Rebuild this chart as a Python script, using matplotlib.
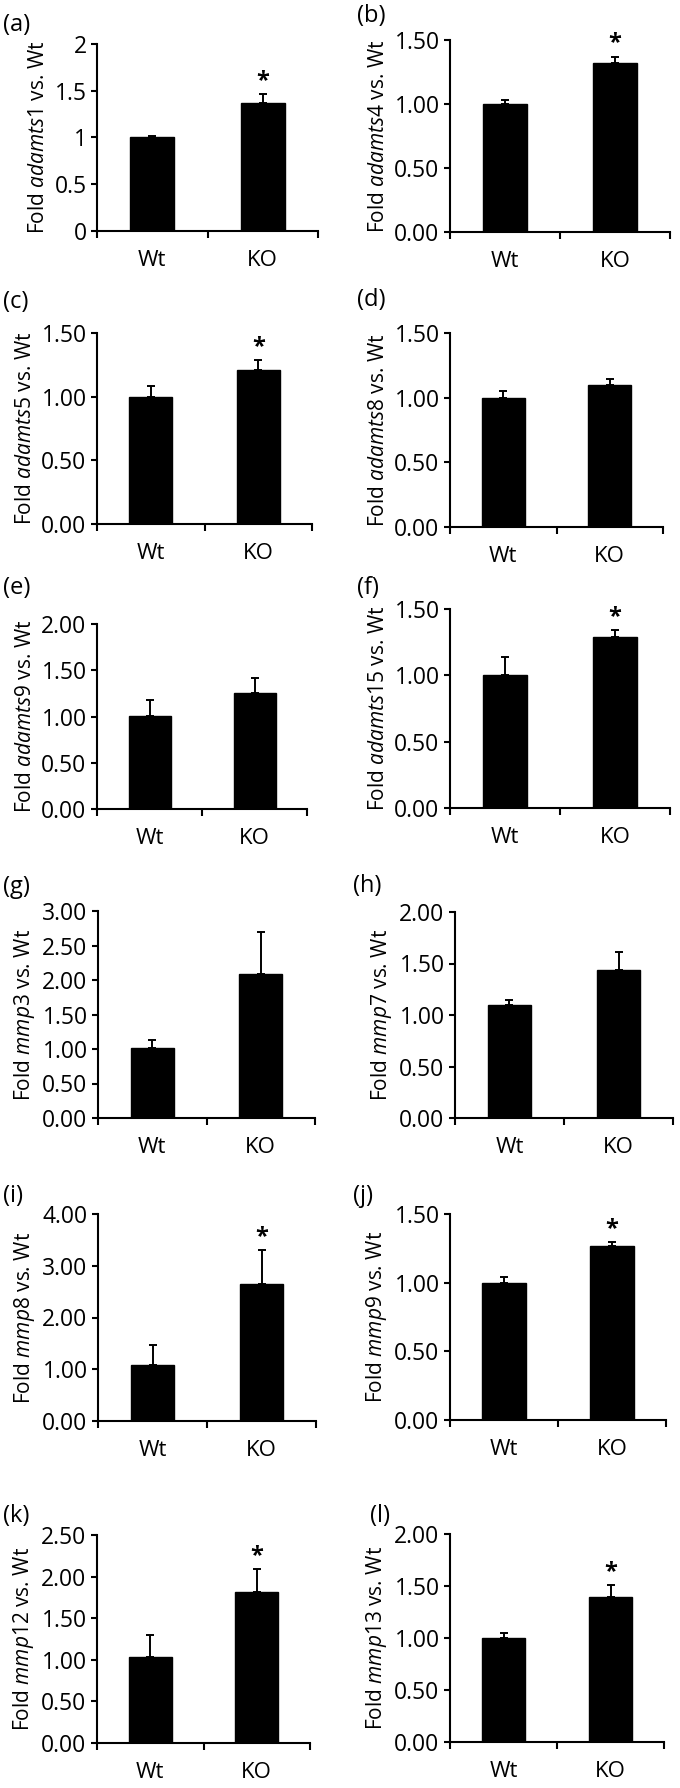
import matplotlib
matplotlib.use("Agg")
import matplotlib.pyplot as plt

plt.rcParams['font.family'] = ['Open Sans', 'DejaVu Sans']
plt.rcParams['mathtext.fontset'] = 'custom'
plt.rcParams['mathtext.rm'] = 'Open Sans'
plt.rcParams['mathtext.it'] = 'Open Sans:italic'

groups = ['Wt', 'KO']
panel_tags = ['(a)', '(b)', '(c)', '(d)', '(e)', '(f)',
              '(g)', '(h)', '(i)', '(j)', '(k)', '(l)']
genes = ['adamts1', 'adamts4', 'adamts5', 'adamts8', 'adamts9', 'adamts15',
         'mmp3', 'mmp7', 'mmp8', 'mmp9', 'mmp12', 'mmp13']

# mean fold change (Wt, KO) and upper error
means = [[1.00, 1.37], [1.00, 1.32], [1.00, 1.21], [1.00, 1.10],
         [1.01, 1.25], [1.00, 1.29], [1.01, 2.09], [1.10, 1.44],
         [1.09, 2.64], [1.00, 1.27], [1.03, 1.82], [1.00, 1.39]]
errors = [[0.015, 0.09], [0.03, 0.05], [0.085, 0.075], [0.05, 0.045],
          [0.17, 0.17], [0.14, 0.05], [0.12, 0.61], [0.05, 0.17],
          [0.38, 0.66], [0.04, 0.025], [0.27, 0.27], [0.045, 0.115]]
significant = [True, True, True, False, False, True,
               False, False, True, True, True, True]

ytick_vals = [[0, 0.5, 1, 1.5, 2],
              [0, 0.5, 1, 1.5],
              [0, 0.5, 1, 1.5],
              [0, 0.5, 1, 1.5],
              [0, 0.5, 1, 1.5, 2],
              [0, 0.5, 1, 1.5],
              [0, 0.5, 1, 1.5, 2, 2.5, 3],
              [0, 0.5, 1, 1.5, 2],
              [0, 1, 2, 3, 4],
              [0, 0.5, 1, 1.5],
              [0, 0.5, 1, 1.5, 2, 2.5],
              [0, 0.5, 1, 1.5, 2]]
ytick_text = [['0', '0.5', '1', '1.5', '2']] + [None] * 11

# axes boxes in pixels: left, right, top, bottom
W, H = 680, 1788
boxes = [(97, 318, 44, 231), (450, 670, 40, 232),
         (97, 312, 333, 524), (450, 663, 333, 527),
         (97, 307, 624, 809), (450, 670, 609, 808),
         (98, 315, 911, 1118), (455, 673, 912, 1118),
         (98, 316, 1214, 1421), (450, 666, 1214, 1420),
         (97, 310, 1535, 1743), (450, 664, 1534, 1742)]
tag_pos = [(3, 25), (357, 16), (3, 302), (357, 300), (3, 588), (357, 588),
           (3, 887), (353, 886), (3, 1196), (353, 1196), (3, 1516), (370, 1516)]

fig = plt.figure(figsize=(W / 100, H / 100), dpi=100)

for i in range(12):
    l, r, t, b = boxes[i]
    ax = fig.add_axes([l / W, 1 - b / H, (r - l) / W, (b - t) / H])
    xs = [0.5, 1.5]
    ax.bar(xs, means[i], width=0.4, color='black', edgecolor='black')
    ax.errorbar(xs, means[i], yerr=[[0, 0], errors[i]], fmt='none',
                ecolor='black', elinewidth=1.4, capsize=3, capthick=1.4)
    if significant[i]:
        ax.annotate('*', xy=(1.5, means[i][1] + errors[i][1]), xytext=(0, 1),
                    textcoords='offset points', ha='center', va='bottom',
                    fontsize=17, fontweight='bold')
    ax.set_xlim(0, 2)
    ax.set_ylim(0, ytick_vals[i][-1])
    ax.set_yticks(ytick_vals[i])
    if ytick_text[i] is not None:
        ax.set_yticklabels(ytick_text[i])
    else:
        ax.set_yticklabels(['%.2f' % v for v in ytick_vals[i]])
    ax.set_xticks(xs)
    ax.set_xticklabels(groups)
    ax.set_xticks([0, 1, 2], minor=True)
    ax.tick_params(axis='x', which='major', length=0, pad=14, labelsize=16)
    ax.tick_params(axis='x', which='minor', length=5, width=1.5, direction='out')
    ax.tick_params(axis='y', length=4.5, width=1.5, direction='out', pad=3,
                   labelsize=16.5)
    for s in ['top', 'right']:
        ax.spines[s].set_visible(False)
    for s in ['left', 'bottom']:
        ax.spines[s].set_linewidth(1.5)
    ax.set_ylabel('Fold $\\mathit{%s}$ vs. Wt' % genes[i], fontsize=15, labelpad=4)
    tx, ty = tag_pos[i]
    fig.text(tx / W, 1 - ty / H, panel_tags[i], fontsize=17, ha='left', va='center')

fig.savefig('out.png', dpi=100)
